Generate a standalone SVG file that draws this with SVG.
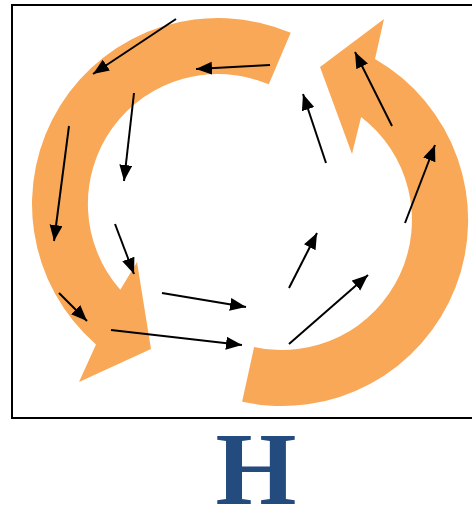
<svg xmlns="http://www.w3.org/2000/svg" width="472" height="509" viewBox="0 0 472 509">
  <style>
    .band { fill: #F9A857; stroke: none; }
    .arr { stroke: #000; stroke-width: 2; fill: none; marker-end: url(#ah); }
    .frame { fill: none; stroke: #000; stroke-width: 2; }
    .lbl { font-family: "Liberation Serif", "Times New Roman", serif; font-weight: bold; fill: #234B7D; }
  </style>
  <defs>
    <marker id="ah" markerUnits="userSpaceOnUse" markerWidth="17" markerHeight="14" refX="16" refY="6.5" orient="auto">
      <path d="M0,0 L16,6.5 L0,13 Z" fill="#000"/>
    </marker>
  </defs>
  <rect class="frame" x="12" y="5" width="472" height="413"/>
  <g id="cycle-left">
    <path class="band" d="M290.7,32.8 A186,186 0 0 0 96,344.4 L79,382 L151,349 L137,262 L120.3,289.8 A130,130 0 0 1 268.8,84.3 Z"/>
  </g>
  <g id="cycle-right">
    <path class="band" d="M242.1,401.7 A186,186 0 0 0 375,58.9 L384,19 L320,67 L352,154 L361.1,116.9 A130,130 0 0 1 254.1,347 Z"/>
  </g>
  <g id="connectors">
    <line class="arr" x1="176" y1="19" x2="93" y2="74"/>
    <line class="arr" x1="270" y1="65" x2="196" y2="69"/>
    <line class="arr" x1="134" y1="93" x2="124" y2="181"/>
    <line class="arr" x1="69" y1="126" x2="54" y2="241"/>
    <line class="arr" x1="115" y1="224" x2="134" y2="274"/>
    <line class="arr" x1="59" y1="293" x2="87" y2="321"/>
    <line class="arr" x1="162" y1="293" x2="246" y2="307"/>
    <line class="arr" x1="111" y1="330" x2="242" y2="345"/>
    <line class="arr" x1="289" y1="288" x2="317" y2="233"/>
    <line class="arr" x1="289" y1="344" x2="368" y2="275"/>
    <line class="arr" x1="405" y1="223" x2="435" y2="145"/>
    <line class="arr" x1="392" y1="126" x2="355" y2="52"/>
    <line class="arr" x1="326" y1="163" x2="303" y2="94"/>
  </g>
  <g id="label-H">
    <text class="lbl" x="256" y="504" font-size="104" text-anchor="middle">H</text>
  </g>
</svg>
